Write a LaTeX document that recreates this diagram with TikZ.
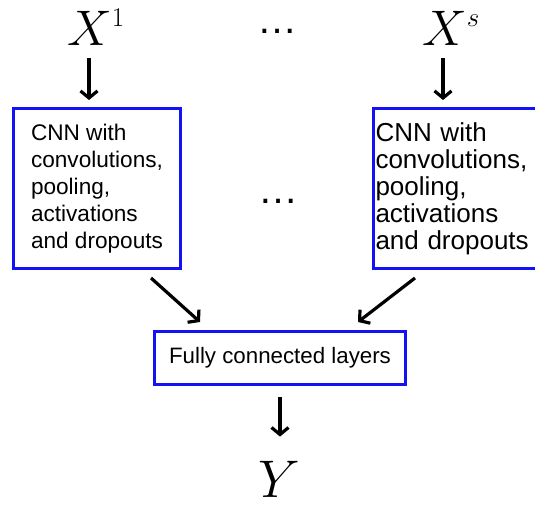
\RequirePackage{fix-cm}
\documentclass[tikz,border=0pt]{standalone}
\usepackage{fontspec}
\newfontfamily\arialfont{Liberation Sans}
\DeclareMathSizes{50}{50}{27}{18}
\DeclareMathSizes{53}{53}{27}{18}
\usepackage{xcolor}
\definecolor{boxblue}{RGB}{18, 18, 245}
\usepackage{tikz}
\usetikzlibrary{arrows.meta}
\tikzstyle{cnn} = [shape=rectangle, draw=boxblue, line width=3pt, align=left, inner ysep=0pt, minimum height=160pt, font=\arialfont\fontsize{22.6}{27}\selectfont]
\tikzstyle{dense} = [shape=rectangle, draw=boxblue, line width=3pt, align=center, minimum width=251pt, minimum height=53pt, font=\arialfont\fontsize{22.3}{27}\selectfont]
\tikzstyle{var} = [inner sep=0pt, anchor=base, font=\fontsize{50}{50}\selectfont]
\tikzstyle{skip} = [inner sep=0pt, anchor=base, font=\arialfont\fontsize{40}{40}\selectfont]
\tikzstyle{flow} = [line width=3.2pt, -{Straight Barb[length=7pt,width=17pt]}]

\begin{document}
\begin{tikzpicture}[x=1pt, y=-1pt]
  \useasboundingbox (0,0) rectangle (535,506);
  % inputs
  \node[var] (x1) at (96,45) {$X^1$};
  \node[skip] (topdots) at (277,33) {…};
  \node[var] (xs) at (451,45) {$X^s$};
  % one CNN per input
  \node[cnn, anchor=north west, minimum width=167pt] (cnnl) at (12,107)
    {CNN with\\convolutions,\\pooling,\\activations\\and dropouts};
  \node[skip] (middots) at (278,203) {…};
  \node[cnn, anchor=north west, inner xsep=2pt, text width=164pt,
        font=\arialfont\fontsize{26}{27}\selectfont] (cnnr) at (372,107)
    {CNN with\\convolutions,\\pooling,\\activations\\and dropouts};
  % merge
  \node[dense] (fc) at (280,358) {Fully connected layers};
  \node[var, font=\fontsize{53}{53}\selectfont] (y) at (279,497) {$Y$};

  \draw[flow, shorten <=13pt, shorten >=7pt] ([xshift=-7pt]x1.south) -- ([xshift=-7pt]x1.south |- cnnl.north);
  \draw[flow, shorten <=13pt, shorten >=7pt] ([xshift=-8pt]xs.south) -- ([xshift=-8pt]xs.south |- cnnr.north);
  \draw[flow] ([xshift=-31pt, yshift=-8pt]cnnl.south east) -- ([xshift=-80pt, yshift=8pt]fc.north);
  \draw[flow] ([xshift=43pt, yshift=-8pt]cnnr.south west) -- ([xshift=78pt, yshift=8pt]fc.north);
  \draw[flow, shorten <=11pt, shorten >=24pt] (fc.south) -- (fc.south |- y.north);
\end{tikzpicture}
\end{document}
